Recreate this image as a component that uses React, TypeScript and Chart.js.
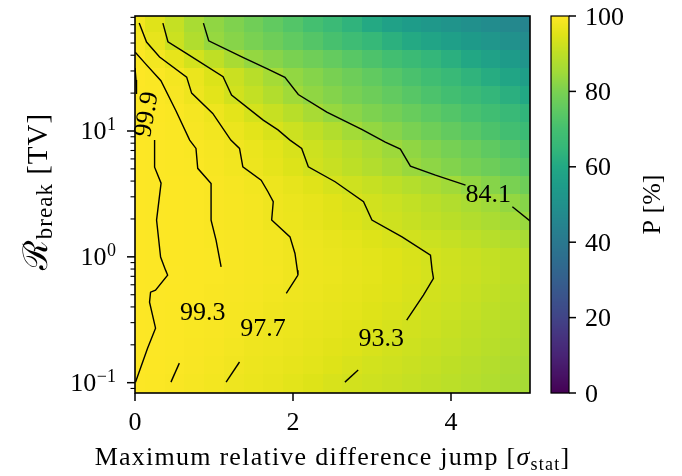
import React, { useEffect, useRef } from "react";
import { Chart, registerables } from "chart.js";

Chart.register(...registerables);

// ---------- data ----------
const xValues = [0, 0.25, 0.5, 0.75, 1, 1.25, 1.5, 1.75, 2, 2.25, 2.5, 2.75, 3, 3.25, 3.5, 3.75, 4, 4.25, 4.5, 4.75, 5];
const yValues = [0.1, 0.139, 0.193, 0.268, 0.373, 0.518, 0.72, 1.0, 1.39, 1.93, 2.68, 3.73, 5.18, 7.2, 10.0, 13.9, 19.3, 26.8, 37.3, 51.8, 72.0];

// P [%] per row (row = one yValue), columns follow xValues
const pRow00 = [99.9, 99.68, 99.32, 98.9, 98.26, 97.55, 97.03, 96.42, 95.72, 94.91, 93.98, 93.11, 92.5, 91.84, 91.13, 90.39, 89.6, 88.77, 87.88, 86.97, 86.0];
const pRow01 = [99.92, 99.77, 99.49, 99.13, 98.64, 97.95, 97.39, 96.89, 96.31, 95.64, 94.88, 94.02, 93.15, 92.48, 91.77, 91.01, 90.19, 89.34, 88.45, 87.46, 86.43];
const pRow02 = [99.93, 99.83, 99.62, 99.29, 98.92, 98.41, 97.71, 97.27, 96.77, 96.2, 95.53, 94.79, 93.95, 93.1, 92.4, 91.66, 90.85, 90.01, 89.09, 88.12, 87.08];
const pRow03 = [99.94, 99.87, 99.71, 99.41, 99.11, 98.69, 98.12, 97.55, 97.1, 96.58, 95.99, 95.32, 94.57, 93.72, 92.92, 92.18, 91.35, 90.5, 89.56, 88.56, 87.49];
const pRow04 = [99.92, 99.85, 99.73, 99.53, 99.25, 98.91, 98.45, 97.81, 97.37, 96.9, 96.37, 95.77, 95.08, 94.32, 93.46, 92.68, 91.89, 91.02, 90.07, 89.08, 88.0];
const pRow05 = [99.92, 99.86, 99.76, 99.6, 99.36, 99.08, 98.71, 98.21, 97.63, 97.2, 96.7, 96.14, 95.5, 94.78, 93.97, 93.1, 92.32, 91.47, 90.55, 89.56, 88.49];
const pRow06 = [99.95, 99.91, 99.83, 99.69, 99.45, 99.19, 98.87, 98.44, 97.88, 97.41, 96.93, 96.39, 95.77, 95.07, 94.28, 93.39, 92.64, 91.85, 90.99, 90.06, 89.06];
const pRow07 = [99.93, 99.88, 99.8, 99.66, 99.45, 99.18, 98.85, 98.4, 97.8, 97.36, 96.88, 96.32, 95.69, 94.98, 94.18, 93.29, 92.56, 91.79, 90.94, 90.04, 89.06];
const pRow08 = [99.93, 99.88, 99.79, 99.64, 99.4, 99.13, 98.76, 98.27, 97.65, 97.12, 96.5, 95.77, 94.91, 93.93, 92.97, 92.08, 91.11, 90.08, 88.96, 87.74, 86.43];
const pRow09 = [99.93, 99.87, 99.77, 99.6, 99.33, 98.96, 98.42, 97.68, 97.09, 96.37, 95.51, 94.5, 93.32, 92.46, 91.53, 90.5, 89.38, 88.17, 86.89, 85.5, 84.0];
const pRow10 = [99.94, 99.88, 99.78, 99.61, 99.33, 98.97, 98.45, 97.72, 97.06, 96.25, 95.27, 94.08, 92.9, 91.89, 90.74, 89.49, 88.12, 86.62, 85.01, 83.34, 81.59];
const pRow11 = [99.95, 99.89, 99.8, 99.62, 99.32, 98.88, 98.2, 97.35, 96.41, 95.22, 93.73, 92.5, 91.31, 89.97, 88.51, 86.9, 85.12, 83.34, 81.64, 79.84, 77.94];
const pRow12 = [99.94, 99.87, 99.72, 99.44, 98.98, 98.23, 97.26, 96.12, 94.64, 92.97, 91.59, 90.01, 88.23, 86.26, 84.08, 82.58, 81.0, 79.36, 77.6, 75.8, 73.89];
const pRow13 = [99.94, 99.87, 99.71, 99.41, 98.9, 98.05, 97.01, 95.7, 93.97, 92.36, 90.79, 88.97, 86.93, 84.62, 82.83, 81.08, 79.24, 77.31, 75.23, 73.1, 70.88];
const pRow14 = [99.94, 99.84, 99.58, 99.08, 98.22, 97.1, 95.75, 93.94, 92.14, 90.27, 88.07, 85.56, 83.35, 81.65, 79.84, 77.94, 75.93, 73.82, 71.63, 69.36, 67.0];
const pRow15 = [99.92, 99.77, 99.42, 98.72, 97.47, 95.84, 93.44, 91.47, 89.14, 86.39, 83.71, 82.12, 80.45, 78.69, 76.85, 74.9, 72.87, 70.78, 68.62, 66.35, 64.06];
const pRow16 = [99.88, 99.66, 99.07, 97.55, 95.67, 93.01, 90.81, 88.14, 84.96, 82.94, 81.28, 79.5, 77.64, 75.68, 73.65, 71.54, 69.32, 67.04, 64.73, 62.32, 59.87];
const pRow17 = [99.92, 99.44, 98.54, 96.93, 94.5, 91.86, 89.14, 85.8, 83.2, 81.44, 79.58, 77.6, 75.52, 73.36, 71.09, 68.72, 66.31, 63.8, 61.22, 58.63, 55.96];
const pRow18 = [99.59, 98.38, 96.3, 93.21, 90.27, 86.47, 83.38, 81.68, 79.87, 77.99, 76.0, 73.89, 71.74, 69.46, 67.11, 64.73, 62.25, 59.72, 57.18, 54.58, 51.99];
const pRow19 = [98.81, 96.38, 92.12, 87.96, 83.64, 81.77, 79.79, 77.67, 75.42, 73.07, 70.61, 68.04, 65.4, 62.67, 60.41, 58.39, 56.36, 54.26, 52.19, 50.08, 48.0];
const pRow20 = [98.17, 95.23, 91.2, 86.61, 82.94, 80.66, 78.22, 75.62, 72.84, 69.92, 66.86, 63.68, 60.41, 57.06, 54.82, 53.15, 51.48, 49.8, 48.17, 46.49, 44.83];

const pGrid = [pRow00, pRow01, pRow02, pRow03, pRow04, pRow05, pRow06, pRow07, pRow08, pRow09, pRow10,
  pRow11, pRow12, pRow13, pRow14, pRow15, pRow16, pRow17, pRow18, pRow19, pRow20];

// contour lines [x, R_break] (gaps where labels sit)
const contour999a = [[0, 31.6], [0.013, 25.4], [0.019, 19.7]];
const contour999b = [[0.248, 8.47], [0.248, 5.16], [0.33, 3.85], [0.273, 1.96], [0.324, 0.995], [0.387, 0.784], [0.413, 0.716], [0.26, 0.543], [0.197, 0.524], [0.184, 0.436], [0.26, 0.271], [0.159, 0.188], [0.006, 0.101]];
const contour993a = [[0.003, 42.2], [0.137, 34.0], [0.328, 25.1], [0.518, 14.5], [0.692, 8.47], [0.772, 7.27], [0.794, 5.05], [0.963, 3.83], [0.963, 1.96], [1.026, 1.36], [1.09, 0.833]];
const contour993b = [[0.561, 0.143], [0.455, 0.101]];
const contour977a = [[0.053, 72.0], [0.146, 50.9], [0.311, 38.7], [0.654, 26.8], [0.717, 20.0], [0.984, 13.8], [1.213, 8.47], [1.323, 7.27], [1.365, 5.19], [1.597, 4.07], [1.683, 3.29], [1.75, 2.74], [1.73, 1.96], [1.962, 1.44], [2.025, 1.064], [2.055, 0.784], [2.063, 0.716], [1.915, 0.512]];
const contour977b = [[1.323, 0.146], [1.153, 0.101]];
const contour933a = [[0.353, 72.0], [0.417, 51.2], [0.65, 41.4], [1.115, 27.0], [1.222, 19.3], [1.623, 12.2], [1.81, 10.2], [1.962, 8.47], [2.11, 7.27], [2.194, 5.19], [2.533, 3.95], [2.893, 2.74], [2.999, 1.96], [3.38, 1.44], [3.74, 1.03], [3.761, 0.784], [3.778, 0.674], [3.651, 0.496], [3.439, 0.314]];
const contour933b = [[2.825, 0.126], [2.657, 0.101]];
const contour841a = [[0.866, 72.0], [0.933, 52.1], [1.365, 38.5], [1.683, 31.0], [1.898, 26.7], [2.067, 19.5], [2.428, 14.1], [2.87, 10.3], [3.168, 8.16], [3.359, 7.18], [3.486, 5.26], [3.803, 4.46], [4.184, 3.72]];
const contour841b = [[4.777, 2.5], [5.0, 1.93]];

const contourSegments = [contour999a, contour999b, contour993a, contour993b, contour977a, contour977b, contour933a, contour933b, contour841a, contour841b];

const contourLabelTexts = ["99.9", "99.3", "97.7", "93.3", "84.1"];
const contourLabelX = [0.133, 0.857, 1.619, 3.117, 4.47];
const contourLabelY = [13.6, 0.37, 0.276, 0.23, 3.18];
const contourLabelRot = [-80, 0, 0, 0, 0];

const xTickValues = [0, 2, 4];
const yMajorTicks = [0.1, 1, 10];
const yMajorExponents = ["\u22121", "0", "1"];
const colorbarTicks = [0, 20, 40, 60, 80, 100];

// ---------- style ----------
const FONT = "'Liberation Serif', 'DejaVu Serif', serif";
const X_MIN = 0, X_MAX = 5, Y_MIN = 0.0828, Y_MAX = 82.0;

const VIRIDIS = [
  [68, 1, 84], [71, 19, 101], [72, 36, 117], [70, 51, 127], [65, 68, 135], [59, 82, 139], [53, 95, 141],
  [46, 108, 142], [42, 120, 142], [37, 132, 142], [33, 145, 140], [30, 156, 137], [34, 168, 132],
  [53, 183, 121], [68, 191, 112], [94, 201, 98], [122, 209, 81], [160, 218, 57], [189, 223, 38],
  [223, 227, 24], [253, 231, 37],
];
function viridis(t: number): string {
  const c = Math.max(0, Math.min(1, t)) * (VIRIDIS.length - 1);
  const i = Math.min(VIRIDIS.length - 2, Math.floor(c));
  const f = c - i;
  const a = VIRIDIS[i], b = VIRIDIS[i + 1];
  return `rgb(${Math.round(a[0] + (b[0] - a[0]) * f)},${Math.round(a[1] + (b[1] - a[1]) * f)},${Math.round(a[2] + (b[2] - a[2]) * f)})`;
}

const heatmapPlugin = {
  id: "heatmap",
  beforeDatasetsDraw(chart: any) {
    const { ctx, chartArea: a, scales } = chart;
    const xs = scales.x, ys = scales.y;
    ctx.save();
    ctx.beginPath();
    ctx.rect(a.left, a.top, a.right - a.left, a.bottom - a.top);
    ctx.clip();
    for (let i = 0; i < yValues.length; i++) {
      const yLo = i === 0 ? Y_MIN : Math.sqrt(yValues[i - 1] * yValues[i]);
      const yHi = i === yValues.length - 1 ? Y_MAX : Math.sqrt(yValues[i] * yValues[i + 1]);
      const py0 = Math.round(ys.getPixelForValue(yHi));
      const py1 = Math.round(ys.getPixelForValue(yLo));
      for (let j = 0; j < xValues.length; j++) {
        const xLo = j === 0 ? X_MIN : (xValues[j - 1] + xValues[j]) / 2;
        const xHi = j === xValues.length - 1 ? X_MAX : (xValues[j] + xValues[j + 1]) / 2;
        const px0 = Math.round(xs.getPixelForValue(xLo));
        const px1 = Math.round(xs.getPixelForValue(xHi));
        ctx.fillStyle = viridis(pGrid[i][j] / 100);
        ctx.fillRect(px0, py0, px1 - px0, py1 - py0);
      }
    }
    ctx.restore();
  },
};

const contourLabelPlugin = {
  id: "contourLabels",
  afterDatasetsDraw(chart: any) {
    const { ctx, scales } = chart;
    ctx.save();
    ctx.fillStyle = "#000";
    ctx.font = `26px ${FONT}`;
    ctx.textAlign = "center";
    ctx.textBaseline = "alphabetic";
    contourLabelTexts.forEach((t, k) => {
      const px = scales.x.getPixelForValue(contourLabelX[k]);
      const py = scales.y.getPixelForValue(contourLabelY[k]);
      ctx.save();
      ctx.translate(px, py);
      ctx.rotate((contourLabelRot[k] * Math.PI) / 180);
      ctx.fillText(t, 0, 8.5);
      ctx.restore();
    });
    ctx.restore();
  },
};

function line(ctx: CanvasRenderingContext2D, x0: number, y0: number, x1: number, y1: number) {
  ctx.beginPath();
  ctx.moveTo(x0, y0);
  ctx.lineTo(x1, y1);
  ctx.stroke();
}

function drawParts(ctx: CanvasRenderingContext2D, parts: { t: string; f: string; dy: number }[], cx: number, by: number) {
  const widths = parts.map((p) => { ctx.font = p.f; return ctx.measureText(p.t).width; });
  const total = widths.reduce((s, w) => s + w, 0);
  let x = cx - total / 2;
  ctx.textAlign = "left";
  ctx.textBaseline = "alphabetic";
  parts.forEach((p, k) => {
    ctx.font = p.f;
    ctx.fillText(p.t, x, by + p.dy);
    x += widths[k];
  });
}

const axesPlugin = {
  id: "axesDecor",
  afterDraw(chart: any) {
    const { ctx, chartArea: a, scales } = chart;
    const xs = scales.x, ys = scales.y;
    ctx.save();
    ctx.strokeStyle = "#000";
    ctx.fillStyle = "#000";

    // x ticks + labels
    ctx.lineWidth = 1.5;
    ctx.font = `26px ${FONT}`;
    ctx.textAlign = "center";
    ctx.textBaseline = "alphabetic";
    xTickValues.forEach((v) => {
      const px = xs.getPixelForValue(v);
      line(ctx, px, a.bottom, px, a.bottom + 8);
      ctx.fillText(String(v), px, a.bottom + 36.5);
    });

    // y minor ticks
    ctx.lineWidth = 1.1;
    for (let d = -2; d <= 2; d++) {
      for (let m = 2; m <= 9; m++) {
        const v = m * Math.pow(10, d);
        if (v < Y_MIN || v > Y_MAX) continue;
        const py = ys.getPixelForValue(v);
        line(ctx, a.left, py, a.left - 4.5, py);
      }
    }
    // y major ticks + labels
    ctx.lineWidth = 1.5;
    yMajorTicks.forEach((v, k) => {
      const py = ys.getPixelForValue(v);
      line(ctx, a.left, py, a.left - 8, py);
      const right = a.left - 19;
      ctx.font = `18px ${FONT}`;
      const we = ctx.measureText(yMajorExponents[k]).width;
      ctx.textAlign = "right";
      ctx.fillText(yMajorExponents[k], right, py - 1);
      ctx.font = `26px ${FONT}`;
      ctx.fillText("10", right - we - 0.5, py + 8.5);
    });

    // frame
    ctx.lineWidth = 1.6;
    ctx.strokeRect(a.left, a.top, a.right - a.left, a.bottom - a.top);

    // x title
    ctx.save();
    (ctx as any).letterSpacing = "1.25px";
    drawParts(ctx, [
      { t: "Maximum relative difference jump [", f: `26px ${FONT}`, dy: 0 },
      { t: "\u03c3", f: `italic 26px ${FONT}`, dy: 0 },
      { t: "stat", f: `18px ${FONT}`, dy: 5 },
      { t: "]", f: `26px ${FONT}`, dy: 0 },
    ], (a.left + a.right) / 2, 465);
    ctx.restore();

    // y title
    ctx.save();
    ctx.translate(47, (a.top + a.bottom) / 2 - 13);
    ctx.rotate(-Math.PI / 2);
    (ctx as any).letterSpacing = "1px";
    drawParts(ctx, [
      { t: "\u211b", f: `34px ${FONT}`, dy: 0 },
      { t: "break", f: `23px ${FONT}`, dy: 5 },
      { t: " [TV]", f: `29px ${FONT}`, dy: 0 },
    ], 0, 0);
    ctx.restore();

    // colorbar
    const cbL = 551, cbR = 569, cbT = a.top, cbB = a.bottom;
    const h = cbB - cbT;
    for (let k = 0; k < h; k++) {
      ctx.fillStyle = viridis(1 - (k + 0.5) / h);
      ctx.fillRect(cbL, cbT + k, cbR - cbL, 1.2);
    }
    ctx.lineWidth = 1.2;
    ctx.strokeStyle = "#000";
    ctx.strokeRect(cbL, cbT, cbR - cbL, h);
    ctx.fillStyle = "#000";
    ctx.lineWidth = 1.5;
    ctx.font = `26px ${FONT}`;
    ctx.textAlign = "left";
    colorbarTicks.forEach((v) => {
      const py = cbB - (v / 100) * h;
      line(ctx, cbR, py, cbR + 7, py);
      ctx.fillText(String(v), cbR + 16, py + 8.5);
    });
    ctx.save();
    ctx.translate(660, (cbT + cbB) / 2);
    ctx.rotate(-Math.PI / 2);
    ctx.textAlign = "center";
    ctx.fillText("P [%]", 0, 0);
    ctx.restore();

    ctx.restore();
  },
};

export default function App() {
  const canvasRef = useRef<HTMLCanvasElement | null>(null);

  useEffect(() => {
    const canvas = canvasRef.current;
    if (!canvas) return;

    const cellPoints: { x: number; y: number }[] = [];
    yValues.forEach((y) => xValues.forEach((x) => cellPoints.push({ x, y })));

    const lineSets = contourSegments.map((seg) => ({
      type: "line" as const,
      data: seg.map(([x, y]) => ({ x, y })),
      borderColor: "#000",
      borderWidth: 1.4,
      pointRadius: 0,
      fill: false,
      tension: 0,
      showLine: true,
    }));

    const chart = new Chart(canvas, {
      type: "scatter",
      data: {
        datasets: [
          { data: cellPoints, pointRadius: 0, pointHoverRadius: 0 } as any,
          ...lineSets,
        ],
      },
      options: {
        animation: false,
        responsive: false,
        devicePixelRatio: 1,
        events: [],
        layout: { padding: { left: 135, right: 152, top: 16, bottom: 83 } },
        scales: {
          x: { type: "linear", min: X_MIN, max: X_MAX, display: false },
          y: { type: "logarithmic", min: Y_MIN, max: Y_MAX, display: false },
        },
        plugins: { legend: { display: false }, tooltip: { enabled: false } },
      },
      plugins: [heatmapPlugin, contourLabelPlugin, axesPlugin],
    } as any);

    return () => chart.destroy();
  }, []);

  return (
    <div style={{ position: "absolute", left: 0, top: 0, width: 682, height: 476, background: "#fff" }}>
      <canvas ref={canvasRef} width={682} height={476} style={{ display: "block" }} />
    </div>
  );
}
